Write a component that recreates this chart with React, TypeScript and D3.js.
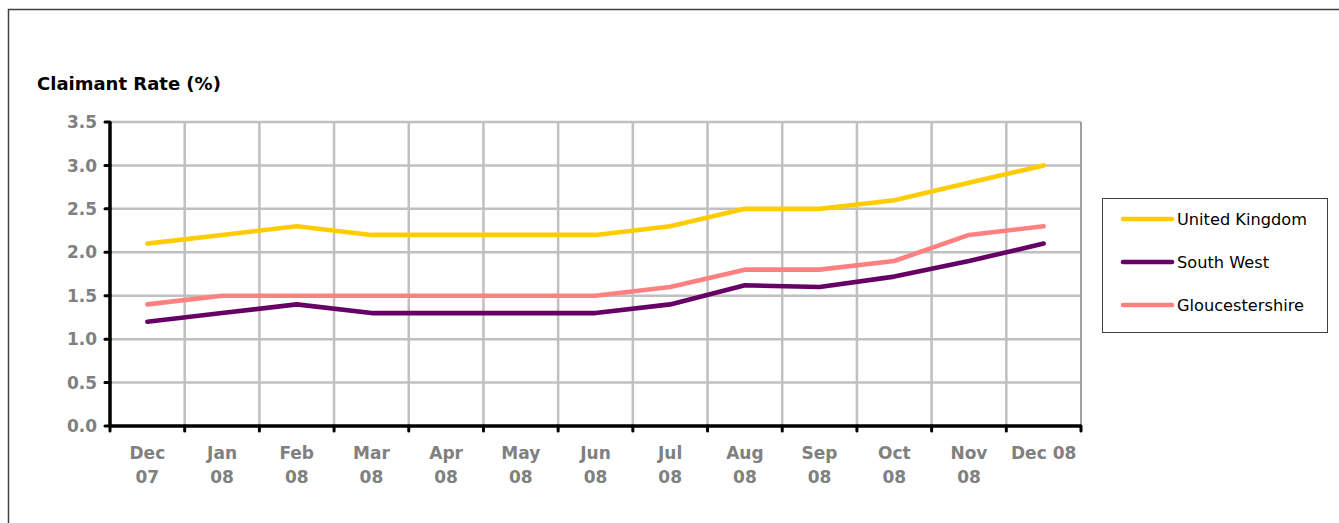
import * as d3 from "d3";

const months = ["Dec 07", "Jan 08", "Feb 08", "Mar 08", "Apr 08", "May 08", "Jun 08", "Jul 08", "Aug 08", "Sep 08", "Oct 08", "Nov 08", "Dec 08"];
const monthLabels = [["Dec", "07"], ["Jan", "08"], ["Feb", "08"], ["Mar", "08"], ["Apr", "08"], ["May", "08"], ["Jun", "08"], ["Jul", "08"], ["Aug", "08"], ["Sep", "08"], ["Oct", "08"], ["Nov", "08"], ["Dec 08"]];
const yTicks = [0, 0.5, 1, 1.5, 2, 2.5, 3, 3.5];

const unitedKingdom = [2.1, 2.2, 2.3, 2.2, 2.2, 2.2, 2.2, 2.3, 2.5, 2.5, 2.6, 2.8, 3.0];
const southWest = [1.2, 1.3, 1.4, 1.3, 1.3, 1.3, 1.3, 1.4, 1.62, 1.6, 1.72, 1.9, 2.1];
const gloucestershire = [1.4, 1.5, 1.5, 1.5, 1.5, 1.5, 1.5, 1.6, 1.8, 1.8, 1.9, 2.2, 2.3];

const seriesNames = ["United Kingdom", "South West", "Gloucestershire"];
const seriesColors = ["#FFCC00", "#660066", "#FF8080"];
const seriesValues = [unitedKingdom, southWest, gloucestershire];

export default function App() {
  const width = 1339;
  const height = 523;
  const left = 110, right = 1081, top = 122, bottom = 426;

  const x = d3.scaleBand<string>().domain(months).range([left, right]);
  const y = d3.scaleLinear().domain([0, 3.5]).range([bottom, top]);
  const cx = (m: string) => x(m)! + x.bandwidth() / 2;

  const line = d3.line<number>()
    .x((_, i) => cx(months[i]))
    .y(d => y(d));

  const grid = "#c0c0c0";
  const font = "'DejaVu Sans', Verdana, sans-serif";

  return (
    <svg width={width} height={height} style={{ position: "absolute", left: 0, top: 0, background: "#fff" }}>
      <rect x={8.5} y={9.5} width={1400} height={600} fill="#fff" stroke="#404040" strokeWidth={1.5} />

      <text x={37} y={90} fontFamily={font} fontWeight={700} fontSize={18} fill="#000">Claimant Rate (%)</text>

      {/* horizontal grid */}
      {yTicks.filter(t => t > 0).map(t => (
        <line key={"h" + t} x1={left} x2={right} y1={y(t)} y2={y(t)} stroke={grid} strokeWidth={2.5} />
      ))}
      {/* vertical grid at category boundaries */}
      {months.slice(1).map(m => (
        <line key={"v" + m} x1={x(m)!} x2={x(m)!} y1={top} y2={bottom} stroke={grid} strokeWidth={2.5} />
      ))}
      <line x1={right} x2={right} y1={top} y2={bottom} stroke="#a0a0a0" strokeWidth={2} />

      {/* series */}
      {seriesValues.map((vals, i) => (
        <path key={seriesNames[i]} d={line(vals)!} fill="none" stroke={seriesColors[i]} strokeWidth={4.6} strokeLinejoin="round" strokeLinecap="round" />
      ))}

      {/* axes */}
      <line x1={left} x2={left} y1={top} y2={bottom} stroke="#000" strokeWidth={3.5} />
      <line x1={left} x2={right} y1={bottom} y2={bottom} stroke="#000" strokeWidth={3.5} />
      {yTicks.map(t => (
        <g key={"yt" + t}>
          <line x1={left - 5} x2={left} y1={y(t)} y2={y(t)} stroke="#000" strokeWidth={3} strokeLinecap="round" />
          <text x={left - 13} y={y(t)} dy="0.36em" textAnchor="end" fontFamily={font} fontWeight={700} fontSize={17} fill="#808080">{t.toFixed(1)}</text>
        </g>
      ))}
      {[...months.map(m => x(m)!), right].map((px, i) => (
        <line key={"xt" + i} x1={px} x2={px} y1={bottom} y2={bottom + 5} stroke="#000" strokeWidth={3} strokeLinecap="round" />
      ))}
      {months.map((m, i) => (
        <text key={"xl" + m} x={cx(m)} y={459} textAnchor="middle" fontFamily={font} fontWeight={700} fontSize={17} fill="#808080">
          {monthLabels[i].map((s, j) => (
            <tspan key={j} x={cx(m)} dy={j === 0 ? 0 : 24}>{s}</tspan>
          ))}
        </text>
      ))}

      {/* legend */}
      <rect x={1102.5} y={198.5} width={225} height={134} fill="#fff" stroke="#404040" strokeWidth={1} />
      {seriesNames.map((name, i) => {
        const ly = 219 + i * 43;
        return (
          <g key={"lg" + name}>
            <line x1={1123} x2={1172} y1={ly} y2={ly} stroke={seriesColors[i]} strokeWidth={4.6} strokeLinecap="round" />
            <text x={1177} y={ly} dy="0.36em" fontFamily={font} fontSize={16.2} fill="#000">{name}</text>
          </g>
        );
      })}
    </svg>
  );
}
